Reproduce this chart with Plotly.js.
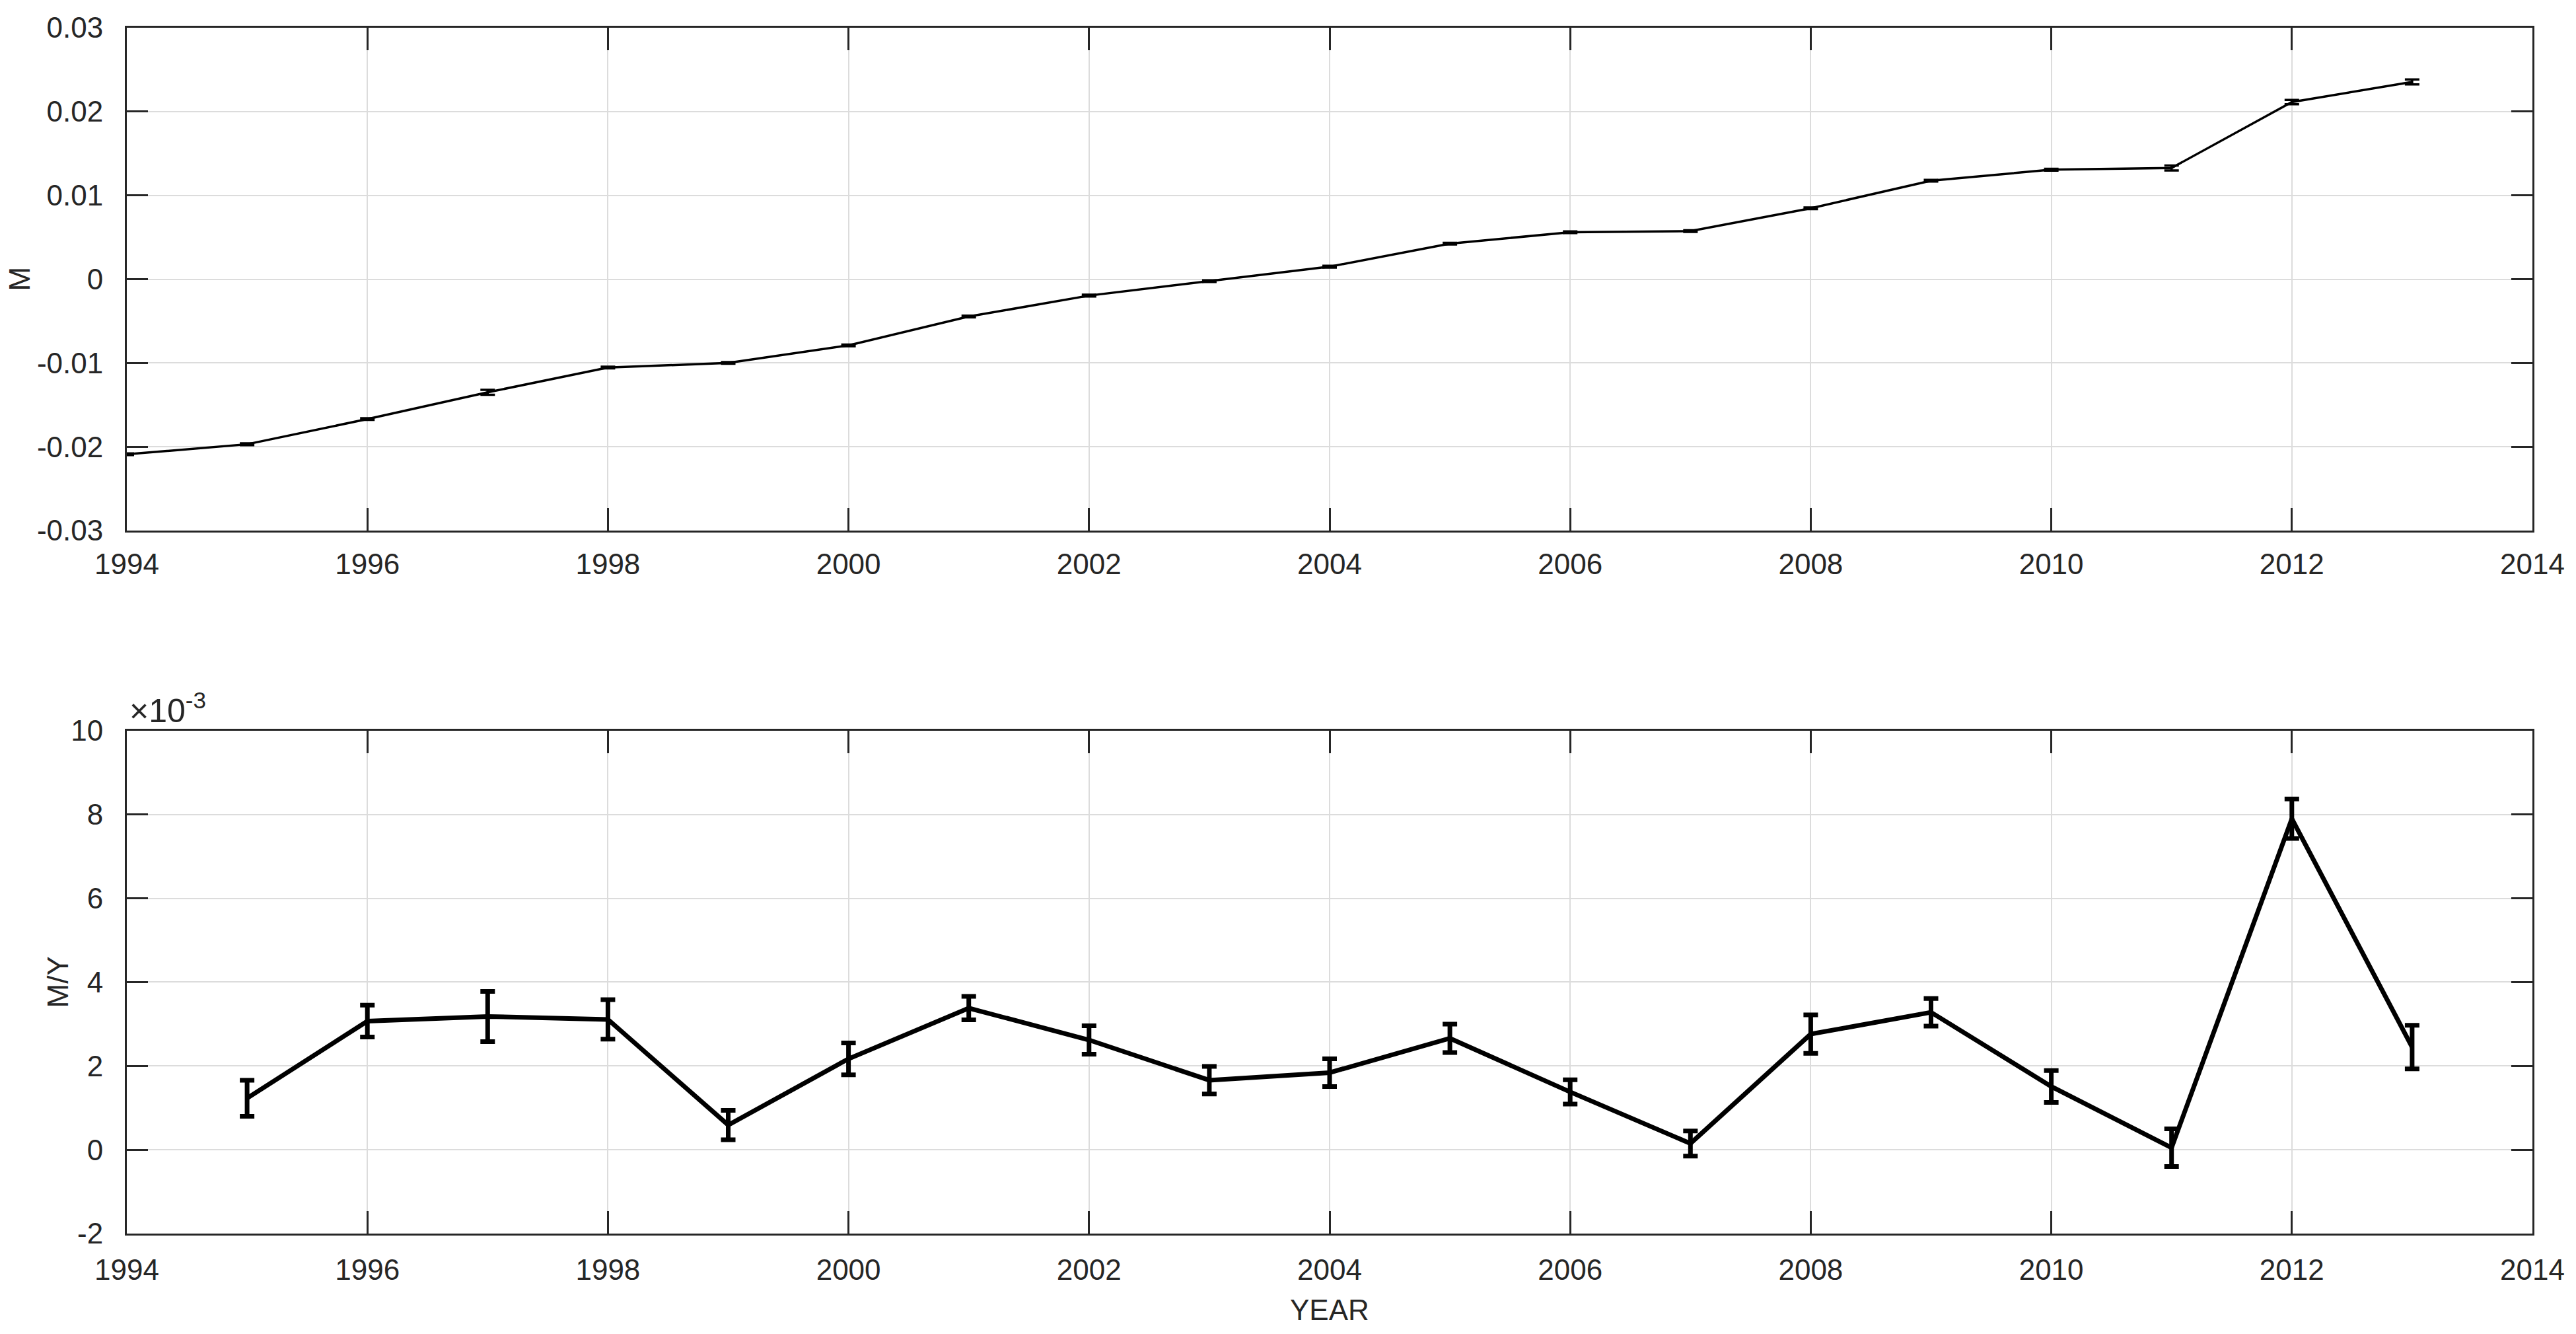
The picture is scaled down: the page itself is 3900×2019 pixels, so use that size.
<!DOCTYPE html>
<html>
<head>
<meta charset="utf-8">
<script src="https://cdn.plot.ly/plotly-3.0.1.min.js"></script>
<style>
  html, body { margin: 0; padding: 0; background: #fff; }
  #chart { width: 3900px; height: 2019px; }
</style>
</head>
<body>
<div id="chart"></div>
<script>
// cumulative value per year (top panel)
var years = [1994, 1995, 1996, 1997, 1998, 1999, 2000, 2001, 2002, 2003,
             2004, 2005, 2006, 2007, 2008, 2009, 2010, 2011, 2012, 2013];
var level = [-0.0209, -0.0197, -0.0167, -0.0135, -0.01055, -0.0100, -0.0079, -0.00446, -0.00196, -0.00024,
             0.00149, 0.00424, 0.0056, 0.00573, 0.00846, 0.01175, 0.01306, 0.01327, 0.02113, 0.02353];
var levelErr = [0.0001, 0.0001, 0.0001, 0.0003, 0.0001, 0.0001, 0.0001, 0.0001, 0.0001, 0.0001,
                0.0001, 0.0001, 0.0001, 0.0001, 0.0001, 0.0001, 0.0001, 0.0003, 0.00025, 0.0003];

// yearly rate (bottom panel), values in units of 1e-3
var rateYears = [1995, 1996, 1997, 1998, 1999, 2000, 2001, 2002, 2003, 2004,
                 2005, 2006, 2007, 2008, 2009, 2010, 2011, 2012, 2013];
var rate = [1.23, 3.07, 3.18, 3.11, 0.59, 2.17, 3.38, 2.62, 1.66, 1.84,
            2.66, 1.38, 0.15, 2.76, 3.28, 1.51, 0.05, 7.9, 2.45];
var rateErr = [0.43, 0.38, 0.6, 0.47, 0.35, 0.38, 0.28, 0.34, 0.33, 0.33,
               0.34, 0.29, 0.3, 0.46, 0.33, 0.38, 0.45, 0.47, 0.52];

var xTicks = [1994, 1996, 1998, 2000, 2002, 2004, 2006, 2008, 2010, 2012, 2014];
var levelTicks = [-0.03, -0.02, -0.01, 0, 0.01, 0.02, 0.03];
var levelTickText = ['-0.03', '-0.02', '-0.01', '0', '0.01', '0.02', '0.03'];
var rateTicks = [-2, 0, 2, 4, 6, 8, 10];
var rateTickText = ['-2', '0', '2', '4', '6', '8', '10'];

var FONT = 'Liberation Sans, Arial, Helvetica, sans-serif';
var TXT = '#262626';

var data = [
  {
    type: 'scatter',
    mode: 'lines',
    x: years,
    y: level,
    xaxis: 'x',
    yaxis: 'y',
    line: {color: 'black', width: 3.5},
    error_y: {type: 'data', array: levelErr, visible: true, color: 'black', thickness: 3.5, width: 11}
  },
  {
    type: 'scatter',
    mode: 'lines',
    x: rateYears,
    y: rate,
    xaxis: 'x2',
    yaxis: 'y2',
    line: {color: 'black', width: 7},
    error_y: {type: 'data', array: rateErr, visible: true, color: 'black', thickness: 7, width: 11}
  }
];

function xAxis(anchor, standoff) {
  return {
    anchor: anchor,
    range: [1994, 2014],
    tickvals: xTicks,
    ticktext: xTicks.map(String),
    ticks: 'inside',
    ticklen: 34,
    tickwidth: 3,
    tickcolor: TXT,
    showline: true,
    linecolor: TXT,
    linewidth: 3,
    mirror: 'ticks',
    showgrid: true,
    gridcolor: '#dcdcdc',
    gridwidth: 2,
    zeroline: false,
    ticklabelstandoff: standoff,
    tickfont: {family: FONT, size: 44, color: TXT}
  };
}

function yAxis(anchor, domain, range, vals, text) {
  return {
    anchor: anchor,
    domain: domain,
    range: range,
    tickvals: vals,
    ticktext: text,
    ticks: 'inside',
    ticklen: 32,
    tickwidth: 3,
    tickcolor: TXT,
    showline: true,
    linecolor: TXT,
    linewidth: 3,
    mirror: 'ticks',
    showgrid: true,
    gridcolor: '#dcdcdc',
    gridwidth: 2,
    zeroline: false,
    ticklabelstandoff: 24,
    tickfont: {family: FONT, size: 44, color: TXT}
  };
}

var layout = {
  width: 3900,
  height: 2019,
  paper_bgcolor: 'white',
  plot_bgcolor: 'white',
  showlegend: false,
  hovermode: false,
  margin: {l: 192, r: 66, t: 42, b: 152},
  xaxis: xAxis('y', 10),
  yaxis: yAxis('x', [0.583, 1], [-0.03, 0.03], levelTicks, levelTickText),
  xaxis2: xAxis('y2', 14),
  yaxis2: yAxis('x2', [0, 0.417], [-2, 10], rateTicks, rateTickText),
  annotations: [
    {text: 'M', xref: 'paper', yref: 'paper', x: 0, y: 0.7915, xshift: -162,
     xanchor: 'center', yanchor: 'middle', textangle: -90, showarrow: false,
     font: {family: FONT, size: 44, color: TXT}},
    {text: 'M/Y', xref: 'paper', yref: 'paper', x: 0, y: 0.2085, xshift: -105,
     xanchor: 'center', yanchor: 'middle', textangle: -90, showarrow: false,
     font: {family: FONT, size: 44, color: TXT}},
    {text: 'YEAR', xref: 'paper', yref: 'paper', x: 0.5, y: 0, yshift: -115,
     xanchor: 'center', yanchor: 'middle', showarrow: false,
     font: {family: FONT, size: 44, color: TXT}},
    {text: '\u00d710<sup>-3</sup>', xref: 'paper', yref: 'paper', x: 0, y: 0.417, xshift: 2, yshift: 0,
     xanchor: 'left', yanchor: 'bottom', showarrow: false,
     font: {family: FONT, size: 50, color: TXT}}
  ]
};

Plotly.newPlot('chart', data, layout, {staticPlot: true, displayModeBar: false});
</script>
</body>
</html>
